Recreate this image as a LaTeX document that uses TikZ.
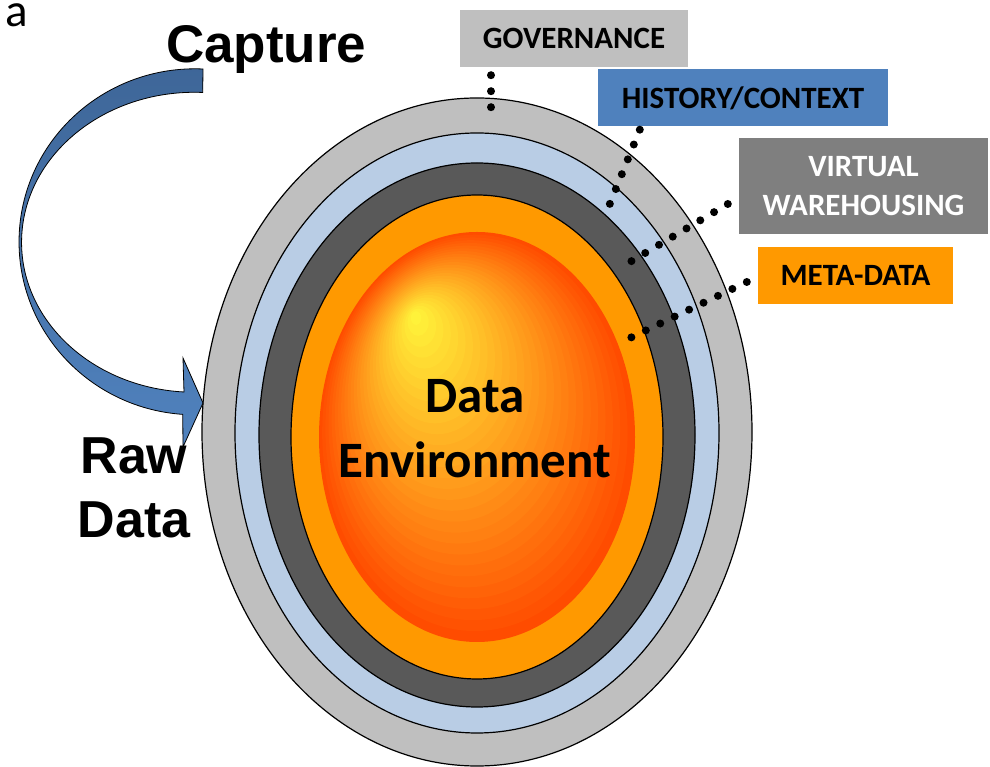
\documentclass[tikz,border=0pt]{standalone}
\usepackage{fontspec}
\setmainfont{Carlito}
\newfontfamily\arialfont{Liberation Sans}
\usetikzlibrary{calc}

\definecolor{govgray}{HTML}{BFBFBF}
\definecolor{histblue}{HTML}{4F81BD}
\definecolor{virtgray}{HTML}{7F7F7F}
\definecolor{metaorange}{HTML}{FF9900}
\definecolor{shellblue}{HTML}{B9CDE5}
\definecolor{shelldark}{HTML}{595959}
\definecolor{corerim}{RGB}{255,76,0}
\definecolor{corehot}{RGB}{255,248,60}
\definecolor{arrowtop}{RGB}{62,102,152}
\definecolor{arrowbot}{RGB}{80,130,190}

\tikzset{
    shell/.style={draw=black, line width=1.2pt},
    labelbox/.style={inner sep=0pt, minimum height=57pt, align=center,
        font=\bfseries\fontsize{31}{39}\selectfont},
    dotline/.style={line width=8pt, line cap=round, dash pattern=on 0pt off 16pt},
}

\begin{document}
\begin{tikzpicture}[x=1pt, y=1pt]
        \useasboundingbox (0,0) rectangle (990,767);

        \draw [shell, fill=govgray] (477,335) ellipse [x radius=275, y radius=334];
        \draw [shell, fill=shellblue] (477,334) ellipse [x radius=242, y radius=300];
        \draw [shell, fill=shelldark] (477,332) ellipse [x radius=218, y radius=272];
        \draw [shell, fill=metaorange] (477,330) ellipse [x radius=186, y radius=242];

        \coordinate (corecentre) at (477,330);
        \coordinate (corefocus) at (414,453);
        \foreach \i in {0,...,29} {
            \pgfmathsetmacro{\shr}{\i/30}
            \pgfmathsetmacro{\mixpc}{100*\shr}
            \fill [fill=corehot!\mixpc!corerim] ($(corecentre)!\shr!(corefocus)$)
                ellipse [x radius={158*(1-\shr)}, y radius={205*(1-\shr)}];
        }

        \draw [line width=0.8pt, top color=arrowtop, bottom color=arrowbot]
            (203,698) arc [start angle=87.4, end angle=266, x radius=176, y radius=173]
            -- (183,320) -- (203,364) -- (183,409) -- (184,375)
            arc [start angle=266.5, end angle=87.3, x radius=173, y radius=150]
            -- cycle;

        \node (cut) [anchor=base east, inner sep=0pt, font=\fontsize{47}{56}\selectfont] at (28,740) {a};
        \node (capture) [anchor=base west, inner sep=0pt,
            font=\arialfont\bfseries\fontsize{53}{64}\selectfont] at (166,704) {Capture};
        \node (rawdata) [anchor=base, align=center, inner sep=0pt,
            font=\arialfont\bfseries\fontsize{52}{64}\selectfont] at (134,229) {Raw\\Data};
        \node (core) [anchor=base, align=center, inner sep=0pt,
            font=\bfseries\fontsize{51}{65}\selectfont] at (475,289) {Data\\Environment};

        \coordinate (govend) at (491,659.5);
        \coordinate (histend) at (609.5,562.3);
        \coordinate (virtend) at (631.2,505.7);
        \coordinate (metaend) at (631.1,429.5);

        \node (gov) [labelbox, fill=govgray, minimum width=228pt] at (574,728.5) {GOVERNANCE};
        \node (hist) [labelbox, fill=histblue, minimum width=290pt] at (743,669) {HISTORY/CONTEXT};
        \node (virt) [labelbox, fill=virtgray, text=white, minimum width=249pt, minimum height=96pt]
            at (863.5,581) {VIRTUAL\\WAREHOUSING};
        \node (meta) [labelbox, fill=metaorange, minimum width=195pt] at (855.5,491.5) {META-DATA};

        \draw [dotline] ($(gov.south -| govend) + (0,-8)$) -- (govend);
        \draw [dotline] ($(hist.south west) + (42,-3)$) -- (histend);
        \draw [dotline] ($(virt.west) + (-11,-18)$) -- (virtend);
        \draw [dotline] ($(meta.west) + (-11,-6.5)$) -- (metaend);
\end{tikzpicture}
\end{document}
